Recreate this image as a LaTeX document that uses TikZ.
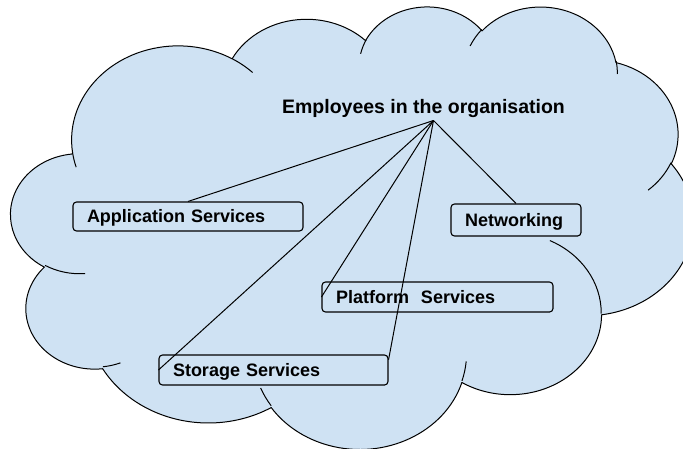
\documentclass[tikz,border=0pt]{standalone}
\usepackage{fontspec}
\setmainfont{Liberation Sans}
\usepackage{tikz}
\usetikzlibrary{calc}
\definecolor{cloudblue}{HTML}{CFE2F3}

\begin{document}
\begin{tikzpicture}[x=1pt, y=1pt, yscale=-1,
    declare function={pang(\a,\w,\h)=atan2(\w*sin(\a),\h*cos(\a))-360*floor((atan2(\w*sin(\a),\h*cos(\a))-(\a)+180)/360);}]
  \tikzstyle{cloudline} = [draw=black, line width=1pt, line join=round]
  \tikzstyle{svc} = [draw=black, line width=1.1pt, rounded corners=3.5pt, inner xsep=14pt, inner ysep=0pt,
                     align=left, text height=12.9pt, text depth=0pt, font=\fontsize{18}{20}\selectfont\bfseries]
  \useasboundingbox (0,0) rectangle (683,448);
  % cloud, arcs in units of 1/432 of its box
  \begin{scope}[shift={(11,5.5)}, xscale=1.579, yscale=1.024]
    \filldraw[cloudline, fill=cloudblue] (39,143.7)
      \foreach \rw/\rh/\st/\sw in {67.53/91.90/-190.4875/123.7805, 53.33/72.67/-144.1024/89.9452,
          43.65/59.45/-145.8079/99.7230, 48.57/65.95/-130.9861/117.2417, 53.33/72.73/-78.7089/109.0269,
          67.75/92.20/-46.2673/130.2690, 57.85/78.67/0.6250/114.0333, 67.52/92.15/22.4516/115.1726,
          77.20/105.43/66.2426/75.7110, 43.60/59.18/-274.9421/146.7356, 43.45/59.45/-246.8285/152.5189}
        { arc[start angle={pang(\st,\rw,\rh)}, end angle={pang(\st+\sw,\rw,\rh)}, x radius=\rw pt, y radius=\rh pt] }
      -- cycle;
    \foreach \x/\y/\rw/\rh/\st/\sw in {46.93/261.77/43.45/59.45/86.7420/26.4295,
        69.28/348.99/43.60/59.18/73.6105/11.4475, 164.78/390.90/67.52/92.15/137.6242/14.0811,
        288.27/347.51/67.52/92.15/6.4533/15.9984, 341.29/229.54/57.85/78.67/-70.2924/70.9174,
        417.98/153.54/53.33/72.73/30.3180/27.7515, 383.24/54.26/48.57/65.95/-13.7443/14.8589,
        290.78/39.52/48.57/65.95/-149.1815/18.1954, 221.41/47.20/43.65/59.45/-163.4943/17.6999,
        140.00/51.92/67.53/91.90/-66.7070/12.3194, 41.27/157.89/67.53/91.90/157.6544/11.8582}
      \draw[cloudline] (\x,\y) arc[start angle={pang(\st,\rw,\rh)}, end angle={pang(\st+\sw,\rw,\rh)}, x radius=\rw pt, y radius=\rh pt];
  \end{scope}

  \node[font=\fontsize{19.5}{22}\selectfont\bfseries, anchor=base, inner sep=0pt] (emp) at (423.5,113.3) {Employees in the organisation};
  \coordinate (apex) at (433.5,120.5);
  \node[svc, text width=202pt, minimum height=29pt] (app) at (188,216.5) {Application Services};
  \node[svc, text width=102pt, minimum height=32pt] (net) at (516,220) {Networking};
  \node[svc, text width=203pt, minimum height=30pt] (plat) at (437.5,297) {Platform\ \ Services};
  \node[svc, text width=201pt, minimum height=30pt] (stor) at (273.5,370) {Storage Services};

  \foreach \to in {app.north, net.north, plat.west, stor.west}
    \draw[line width=1pt] (apex) -- (\to);
  \draw[line width=1pt] (apex) -- ($(stor.north east)!0.17!(stor.south east)$);
\end{tikzpicture}
\end{document}
